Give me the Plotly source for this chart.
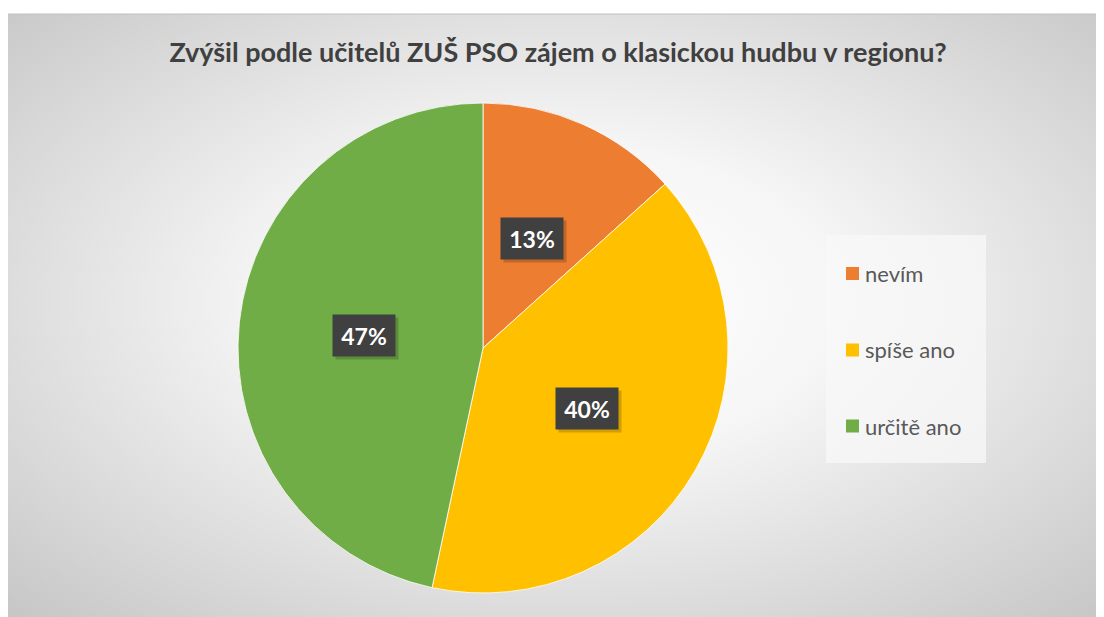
import base64
import math
import plotly.graph_objects as go

# ---- data ----
categories = ["nevím", "spíše ano", "určitě ano"]
counts = [2, 6, 7]
colors = ["#ED7D31", "#FFC000", "#70AD47"]
title_text = "Zvýšil podle učitelů ZUŠ PSO zájem o klasickou hudbu v regionu?"

W, H = 1104, 617
FONT = "Lato, 'Open Sans', sans-serif"
OX, OY = 8, 8  # page body offset

# pie geometry (screen pixels)
cx_px, cy_px, r_px = 483, 348, 245

def px_x(x):
    return (x - OX) / W

def px_y(y):
    return 1 - (y - OY) / H

# ---- background radial gradient (SVG data URI) ----
svg = (
    '<svg xmlns="http://www.w3.org/2000/svg" width="1096" height="603" viewBox="0 0 1096 603" preserveAspectRatio="none">'
    '<defs><radialGradient id="g" cx="0.5" cy="0.47" r="0.72">'
    '<stop offset="0" stop-color="#ffffff"/>'
    '<stop offset="0.35" stop-color="#f6f6f6"/>'
    '<stop offset="1" stop-color="#c6c6c6"/>'
    '</radialGradient></defs>'
    '<rect x="0" y="0" width="1096" height="603" fill="url(#g)"/>'
    '</svg>'
)
bg_uri = "data:image/svg+xml;base64," + base64.b64encode(svg.encode()).decode()

fig = go.Figure()
fig.add_trace(go.Pie(
    labels=categories,
    values=counts,
    marker=dict(colors=colors, line=dict(color="rgba(255,255,255,0.8)", width=1)),
    sort=False,
    direction="clockwise",
    rotation=0,
    textinfo="none",
    hoverinfo="label+percent",
    showlegend=False,
    domain=dict(x=[px_x(cx_px - r_px), px_x(cx_px + r_px)],
                y=[px_y(cy_px + r_px), px_y(cy_px - r_px)]),
))

annotations = []
shapes = []

# data labels in dark boxes
total = sum(counts)
cum = 0
for cat, v in zip(categories, counts):
    mid = (cum + v / 2) / total * 2 * math.pi
    cum += v
    lx = cx_px + 0.49 * r_px * math.sin(mid)
    ly = cy_px - 0.49 * r_px * math.cos(mid)
    pct = f"{round(v / total * 100)}%"
    # shadow
    annotations.append(dict(
        x=px_x(lx + 3), y=px_y(ly + 3), xref="paper", yref="paper",
        xanchor="center", yanchor="middle",
        text=" ", showarrow=False, width=62, height=41,
        bgcolor="rgba(0,0,0,0.18)", borderpad=0,
    ))
    annotations.append(dict(
        x=px_x(lx), y=px_y(ly), xref="paper", yref="paper",
        xanchor="center", yanchor="middle",
        text=f"<b>{pct}</b>", showarrow=False, width=62, height=41,
        bgcolor="#404040", borderpad=0,
        font=dict(family=FONT, size=23, color="#ffffff"),
    ))

# legend box
shapes.append(dict(
    type="rect", xref="paper", yref="paper",
    x0=px_x(826), x1=px_x(986), y0=px_y(463), y1=px_y(235),
    fillcolor="rgba(248,248,248,0.75)", line=dict(width=0), layer="below",
))
legend_y = [273.5, 350, 426]
for cat, col, ly in zip(categories, colors, legend_y):
    shapes.append(dict(
        type="rect", xref="paper", yref="paper",
        x0=px_x(846), x1=px_x(859), y0=px_y(ly + 6.5), y1=px_y(ly - 6.5),
        fillcolor=col, line=dict(width=0),
    ))
    annotations.append(dict(
        x=px_x(863), y=px_y(ly), xref="paper", yref="paper",
        xanchor="left", yanchor="middle", text=cat, showarrow=False,
        font=dict(family=FONT, size=22, color="#595959"),
    ))

# top border line of chart area
shapes.append(dict(
    type="line", xref="paper", yref="paper",
    x0=0, x1=1, y0=px_y(14), y1=px_y(14),
    line=dict(color="#c0c0c0", width=1),
))

fig.update_layout(
    width=W, height=H,
    margin=dict(l=0, r=0, t=0, b=0),
    paper_bgcolor="#ffffff",
    plot_bgcolor="rgba(0,0,0,0)",
    title=dict(
        text=f"<b>{title_text}</b>",
        x=px_x(558), xanchor="center",
        y=px_y(53), yanchor="middle",
        font=dict(family=FONT, size=27, color="#404040"),
    ),
    images=[dict(
        source=bg_uri, xref="paper", yref="paper",
        x=0, y=px_y(14), sizex=1, sizey=px_y(14),
        xanchor="left", yanchor="top", sizing="stretch", layer="below",
    )],
    shapes=shapes,
    annotations=annotations,
    showlegend=False,
)

fig.write_html("out.html")
